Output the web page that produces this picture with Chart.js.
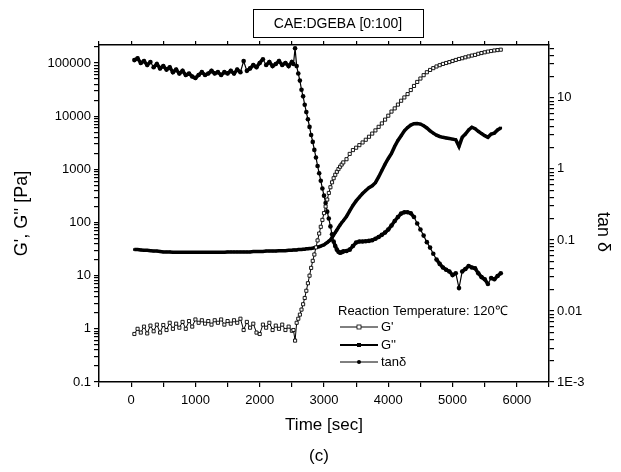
<!DOCTYPE html>
<html>
<head>
<meta charset="utf-8">
<script src="https://cdn.jsdelivr.net/npm/chart.js@4.4.1/dist/chart.umd.min.js"></script>
<style>
  html, body { margin: 0; padding: 0; background: #fff; }
</style>
</head>
<body>
<canvas id="myChart" width="621" height="472"></canvas>
<script>
// sample times [sec]
var timeSec = [
  50, 100, 150, 200, 250, 300, 350, 400, 450, 500,
  550, 600, 650, 700, 750, 800, 850, 900, 950, 1000,
  1050, 1100, 1150, 1200, 1250, 1300, 1350, 1400, 1450, 1500,
  1550, 1600, 1650, 1700, 1750, 1800, 1850, 1900, 1950, 2000,
  2050, 2100, 2150, 2200, 2250, 2300, 2350, 2400, 2450, 2500,
  2525, 2550, 2575, 2600, 2625, 2650, 2675, 2700, 2725, 2750,
  2775, 2800, 2825, 2850, 2875, 2900, 2925, 2950, 2975, 3000,
  3025, 3050, 3075, 3100, 3125, 3150, 3175, 3200, 3225, 3250,
  3275, 3300,
  3350, 3400, 3450, 3500, 3550, 3600, 3650, 3700, 3750, 3800,
  3850, 3900, 3950, 4000, 4050, 4100, 4150, 4200, 4250, 4300,
  4350, 4400, 4450, 4500, 4550, 4600, 4650, 4700, 4750, 4800,
  4850, 4900, 4950, 5000, 5050, 5100, 5150, 5200, 5250, 5300,
  5350, 5400, 5450, 5500, 5550, 5600, 5650, 5700, 5750
];

// G' [Pa]
var gStorage = [
  0.8, 1.0, 0.85, 1.1, 0.82, 1.15, 0.9, 1.2, 0.85, 1.18,
  0.95, 1.3, 1.0, 1.25, 1.05, 1.35, 1.0, 1.4, 1.1, 1.5,
  1.3, 1.45, 1.25, 1.4, 1.2, 1.45, 1.3, 1.5, 1.2, 1.4,
  1.25, 1.45, 1.3, 1.55, 0.95, 1.35, 1.05, 1.25, 0.85, 0.8,
  1.2, 1.05, 1.3, 0.95, 1.15, 1.0, 1.2, 0.95, 1.1, 0.92,
  0.95, 0.6, 1.3, 1.55, 1.85, 2.3, 2.9, 3.8, 5.2, 7.2,
  10, 14, 19, 25, 34, 46, 62, 83, 112, 150,
  200, 270, 360, 460, 570, 680, 790, 900, 1010, 1120,
  1230, 1350,
  1550, 1950, 2300, 2550, 2850, 3200, 3600, 4100, 4700, 5400,
  6300, 7300, 8600, 10200, 12200, 14000, 16500, 19500, 22500, 26000,
  31000, 37000, 44000, 51000, 59000, 67000, 74000, 80000, 86000, 91000,
  96000, 100000, 104000, 109000, 114000, 119000, 123000, 128000, 133000, 138000,
  142000, 149000, 154000, 159000, 164000, 168000, 172000, 175000, 178000
];

// G'' [Pa]
var gLoss = [
  31, 31, 30.5, 30, 30, 29.5, 29, 29, 28.5, 28,
  28, 28, 27.5, 27.5, 27.5, 27.5, 27.5, 27.5, 27.5, 27.5,
  27.5, 27.5, 27.5, 27.5, 27.5, 27.5, 27.5, 27.5, 27.5, 28,
  28, 28, 28, 28, 28, 28, 28, 28.5, 28.5, 28.5,
  28.5, 29, 29, 29, 29, 29.5, 29.5, 29.5, 30, 30,
  30.5, 30.5, 30.5, 31, 31, 31, 31.5, 31.5, 32, 32,
  32.5, 32.5, 33, 33.5, 34, 34.5, 35, 36, 37, 38,
  40, 42, 44.5, 47, 52, 58, 65, 72, 81, 90,
  99, 108,
  130, 165, 210, 255, 300, 350, 400, 450, 490, 560,
  720, 950, 1250, 1600, 2000, 2700, 3500, 4300, 5300, 6100,
  6800, 7200, 7300, 7100, 6600, 6000, 5300, 4800, 4400, 4150,
  4000, 3900, 3800, 3700, 3600, 2700, 4000, 4600, 5500, 6200,
  5800, 5200, 4700, 4300, 4000, 4600, 4800, 5500, 6000
];

// tan delta
var tanDelta = [
  34, 36, 31, 33, 29, 32, 27, 30, 26, 28,
  25, 27, 23, 25, 22, 24, 21, 22, 20, 19,
  21, 23, 21, 22, 24, 22, 23, 21, 23, 22,
  24, 22, 25, 23, 33, 24, 26, 29, 27, 31,
  35, 29, 32, 28, 30, 33, 29, 31, 28, 32,
  30, 50, 28, 22, 17.5, 13, 10.5, 8, 6.3, 5,
  3.9, 3.0, 2.4, 1.85, 1.45, 1.1, 0.87, 0.68, 0.53, 0.42,
  0.33, 0.25, 0.2, 0.155, 0.12, 0.095, 0.082, 0.073, 0.068, 0.066,
  0.067, 0.069,
  0.07, 0.073, 0.082, 0.092, 0.095, 0.095, 0.096, 0.097, 0.099, 0.104,
  0.11, 0.118, 0.127, 0.14, 0.16, 0.185, 0.21, 0.235, 0.245, 0.245,
  0.238, 0.21, 0.17, 0.14, 0.115, 0.093, 0.078, 0.064, 0.053, 0.046,
  0.041, 0.038, 0.036, 0.032, 0.034, 0.021, 0.036, 0.039, 0.043, 0.041,
  0.04, 0.034, 0.03, 0.028, 0.024, 0.029, 0.028, 0.031, 0.034
];

var seriesNames = ["G'", "G''", 'tan\u03b4'];
var leftTickValues = [0.1, 1, 10, 100, 1000, 10000, 100000];
var leftTickLabels = ['0.1', '1', '10', '100', '1000', '10000', '100000'];
var rightTickValues = [0.001, 0.01, 0.1, 1, 10];
var rightTickLabels = ['1E-3', '0.01', '0.1', '1', '10'];
var timeTickValues = [0, 1000, 2000, 3000, 4000, 5000, 6000];
var timeTickLabels = ['0', '1000', '2000', '3000', '4000', '5000', '6000'];
var panelTitle = 'CAE:DGEBA [0:100]';
var legendTitle = 'Reaction Temperature: 120\u2103';
var rightTitle = 'tan \u03b4';
var panelLabel = '(c)';

var FONT = '"Liberation Sans", Arial, sans-serif';

function points(values) {
  return timeSec.map(function (t, i) { return { x: t, y: values[i] }; });
}

function labelFor(values, labels) {
  return function (v) {
    for (var i = 0; i < values.length; i++) {
      if (Math.abs(Math.log10(v) - Math.log10(values[i])) < 1e-6) return labels[i];
    }
    return '';
  };
}

// keep only 1..9 x 10^n ticks (drop the 1.5 ones chart.js adds)
function integerDecadeTicks(scale) {
  scale.ticks = scale.ticks.filter(function (t) {
    var m = t.value / Math.pow(10, Math.floor(Math.log10(t.value) + 1e-9));
    return Math.abs(m - Math.round(m)) < 1e-6;
  });
}

// where markers crowd together the trace looks heavy in the scan
function crowdedWidth(thin, thick) {
  return function (ctx) {
    var d = Math.hypot(ctx.p1.x - ctx.p0.x, ctx.p1.y - ctx.p0.y);
    return d < 6 ? thick : thin;
  };
}

var decorations = {
  id: 'decorations',
  afterDraw: function (chart) {
    var ctx = chart.ctx;
    ctx.save();
    ctx.fillStyle = '#000';
    ctx.strokeStyle = '#000';

    // title box
    ctx.lineWidth = 1;
    ctx.strokeRect(253.5, 9.5, 170, 28);
    ctx.font = '14px ' + FONT;
    ctx.textAlign = 'center';
    ctx.textBaseline = 'middle';
    ctx.fillText(panelTitle, 338, 24);

    // panel label
    ctx.font = '17px ' + FONT;
    ctx.fillText(panelLabel, 319, 456);

    // right axis title, read top to bottom
    ctx.save();
    ctx.translate(603, 232);
    ctx.rotate(Math.PI / 2);
    ctx.font = '18px ' + FONT;
    ctx.fillText(rightTitle, 0, 0);
    ctx.restore();

    // legend
    ctx.textAlign = 'left';
    ctx.font = '13px ' + FONT;
    ctx.fillText(legendTitle, 338, 311);
    var rows = [327, 345, 362];
    rows.forEach(function (y, i) {
      ctx.beginPath();
      ctx.lineWidth = i === 1 ? 2 : 1;
      ctx.moveTo(340, y);
      ctx.lineTo(378, y);
      ctx.stroke();
      if (i === 0) {
        ctx.fillStyle = '#fff';
        ctx.fillRect(357, y - 2, 4, 4);
        ctx.lineWidth = 0.8;
        ctx.strokeRect(357, y - 2, 4, 4);
        ctx.fillStyle = '#000';
      } else if (i === 1) {
        ctx.fillRect(357, y - 2, 4, 4);
      } else {
        ctx.beginPath();
        ctx.arc(359, y, 2, 0, Math.PI * 2);
        ctx.fill();
      }
      ctx.fillText(seriesNames[i], 381, y);
    });
    ctx.restore();
  }
};

var tickFont = { family: FONT, size: 13 };
var titleFont = { family: FONT, size: 17 };

var config = {
  type: 'line',
  data: {
    datasets: [{
      label: seriesNames[0],
      data: points(gStorage),
      yAxisID: 'y',
      borderColor: '#000',
      borderWidth: 1,
      pointStyle: 'rect',
      pointRadius: 2.2,
      pointBackgroundColor: '#fff',
      pointBorderColor: '#000',
      pointBorderWidth: 0.9
    }, {
      label: seriesNames[1],
      data: points(gLoss),
      yAxisID: 'y',
      borderColor: '#000',
      borderWidth: 3.5,
      pointStyle: 'rect',
      pointRadius: 1.8,
      pointBackgroundColor: '#000',
      pointBorderColor: '#000',
      pointBorderWidth: 0
    }, {
      label: seriesNames[2],
      data: points(tanDelta),
      yAxisID: 'y2',
      borderColor: '#000',
      borderWidth: 1.2,
      segment: { borderWidth: crowdedWidth(1.2, 3.5) },
      pointStyle: 'circle',
      pointRadius: 2.3,
      pointBackgroundColor: '#000',
      pointBorderColor: '#000',
      pointBorderWidth: 0
    }]
  },
  options: {
    responsive: false,
    animation: false,
    layout: { padding: { left: 0, right: 0, top: 41, bottom: 30 } },
    plugins: { legend: { display: false }, tooltip: { enabled: false } },
    elements: { line: { tension: 0 } },
    scales: {
      x: {
        type: 'linear',
        position: 'bottom',
        min: -500,
        max: 6500,
        afterFit: function (s) { s.height = 60; },
        ticks: {
          stepSize: 500,
          autoSkip: false,
          maxRotation: 0,
          padding: 6,
          color: '#000',
          font: tickFont,
          callback: function (v) {
            var i = timeTickValues.indexOf(v);
            return i >= 0 ? timeTickLabels[i] : '';
          }
        },
        grid: { drawOnChartArea: false, tickLength: 5, color: '#000', lineWidth: 1.2 },
        border: { color: '#000', width: 1.5 },
        title: { display: true, text: 'Time [sec]', color: '#000', font: titleFont, padding: { top: 0, bottom: 6 } }
      },
      xTop: {
        type: 'linear',
        position: 'top',
        min: -500,
        max: 6500,
        afterFit: function (s) { s.height = 4; },
        ticks: { display: false, stepSize: 500 },
        grid: { drawOnChartArea: false, tickLength: 4, color: '#000', lineWidth: 1.2 },
        border: { color: '#000', width: 1.5 }
      },
      y: {
        type: 'logarithmic',
        position: 'left',
        min: 0.1,
        max: 218000,
        afterFit: function (s) { s.width = 99; },
        afterBuildTicks: integerDecadeTicks,
        ticks: {
          autoSkip: false,
          padding: 3,
          color: '#000',
          font: tickFont,
          callback: labelFor(leftTickValues, leftTickLabels)
        },
        grid: { drawOnChartArea: false, tickLength: 5, color: '#000', lineWidth: 1.2 },
        border: { color: '#000', width: 1.5 },
        title: { display: true, text: "G', G'' [Pa]", color: '#000', font: { family: FONT, size: 18 }, padding: { top: 11, bottom: 0 } }
      },
      y2: {
        type: 'logarithmic',
        position: 'right',
        min: 0.001,
        max: 55.5,
        afterFit: function (s) { s.width = 72; },
        afterBuildTicks: integerDecadeTicks,
        ticks: {
          autoSkip: false,
          padding: 3,
          color: '#000',
          font: tickFont,
          callback: labelFor(rightTickValues, rightTickLabels)
        },
        grid: { drawOnChartArea: false, tickLength: 5, color: '#000', lineWidth: 1.2 },
        border: { color: '#000', width: 1.5 }
      }
    }
  },
  plugins: [decorations]
};

var myChart = new Chart(document.getElementById('myChart'), config);
</script>
</body>
</html>
